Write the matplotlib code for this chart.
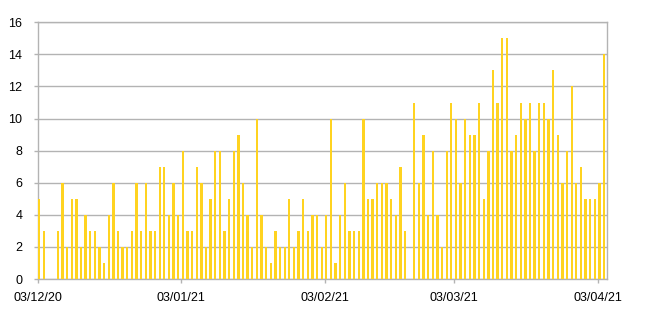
import datetime as dt

import numpy as np
import matplotlib
matplotlib.use("Agg")
import matplotlib.pyplot as plt
import matplotlib.dates as mdates

# ---------------------------- Data -----------------------------------
start_day = dt.date(2020, 12, 3)
daily_counts = [
    # 03/12 - 22/12
    5, 3, 0, 0, 3, 6, 2, 5, 5, 2, 4, 3, 3, 2, 1, 4, 6, 3, 2, 2,
    # 23/12 - 11/01
    3, 6, 3, 6, 3, 3, 7, 7, 4, 6, 4, 8, 3, 3, 7, 6, 2, 5, 8, 8,
    # 12/01 - 31/01
    3, 5, 8, 9, 6, 4, 2, 10, 4, 2, 1, 3, 2, 2, 5, 2, 3, 5, 3, 4,
    # 01/02 - 20/02
    4, 2, 4, 10, 1, 4, 6, 3, 3, 3, 10, 5, 5, 6, 6, 6, 5, 4, 7, 3,
    # 21/02 - 12/03
    0, 11, 6, 9, 4, 8, 4, 2, 8, 11, 10, 6, 10, 9, 9, 11, 5, 8, 13, 11,
    # 13/03 - 04/04
    15, 15, 8, 9, 11, 10, 11, 8, 11, 11, 10, 13, 9, 6, 8, 12, 6, 7, 5, 5, 5, 6, 14,
]
tick_days = [dt.date(2020, 12, 3), dt.date(2021, 1, 3), dt.date(2021, 2, 3),
             dt.date(2021, 3, 3), dt.date(2021, 4, 3)]
y_ticks = [0, 2, 4, 6, 8, 10, 12, 14, 16]

# ---------------------------- Style ----------------------------------
BAR_COLOR = "#ffd320"
GRID_COLOR = "#b3b3b3"
plt.rcParams["font.family"] = ["Liberation Sans", "DejaVu Sans"]

days = [start_day + dt.timedelta(days=i) for i in range(len(daily_counts))]
x = mdates.date2num(days)

fig = plt.figure(figsize=(6.5, 3.22), dpi=100)
ax = fig.add_axes([0.058, 0.1335, 0.876, 0.7972])

ax.bar(x + 0.1, daily_counts, width=0.5, align="edge", color=BAR_COLOR,
       linewidth=0, zorder=3)

ax.set_xlim(x[0], x[-1] + 1)
ax.set_ylim(0, 16)
ax.set_yticks(y_ticks)
ax.set_xticks(mdates.date2num(tick_days))
ax.xaxis.set_major_formatter(mdates.DateFormatter("%d/%m/%y"))

ax.yaxis.grid(True, color=GRID_COLOR, linewidth=1, zorder=0)
for s in ax.spines.values():
    s.set_color(GRID_COLOR)
    s.set_linewidth(1)
ax.tick_params(axis="both", colors=GRID_COLOR, labelcolor="#000000",
               labelsize=9, length=3, width=1)
ax.tick_params(axis="y", pad=8)
ax.tick_params(axis="x", pad=6)

fig.savefig("out.png", dpi=100)
